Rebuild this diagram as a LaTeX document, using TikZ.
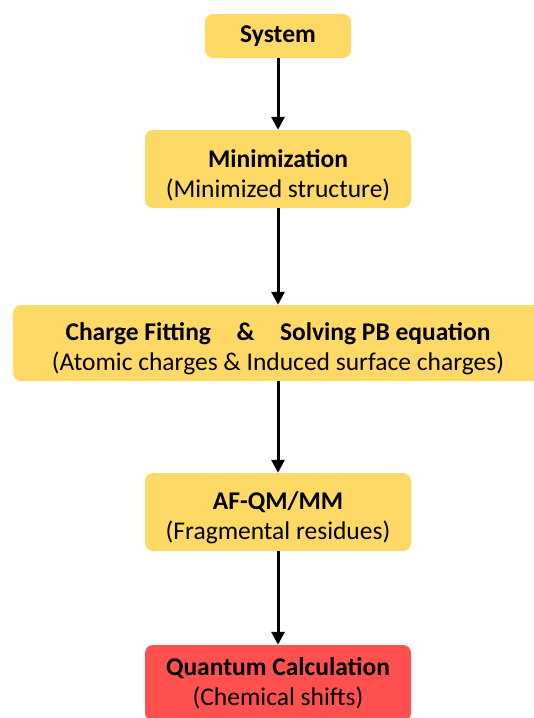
\documentclass[tikz,border=0pt]{standalone}
\usepackage{fontspec}
\setmainfont{Carlito}
\usetikzlibrary{arrows.meta,positioning}
\definecolor{Gold}{HTML}{FFD966}
\definecolor{Coral}{HTML}{FF5050}

\begin{document}
\begin{tikzpicture}[x=1pt,y=-1pt,
  stage/.style={fill=Gold,rounded corners=8pt,align=center,inner sep=0pt,
    font=\fontsize{25.5}{30}\selectfont},
  flow/.style={-{Triangle[length=13pt,width=13pt]},line width=3pt}]
  \useasboundingbox (0,0) rectangle (534,718);
  \clip (0,0) rectangle (534,718);
  \node[stage,minimum width=146pt,minimum height=44pt] (sys) at (278,36)
    {\textbf{System}};
  \node[stage,minimum width=266pt,minimum height=78pt] (mini) at (278,169)
    {\rule{0pt}{30pt}\textbf{Minimization}\\(Minimized structure)};
  \node[stage,minimum width=530pt,minimum height=76pt] (chg) at (278,343)
    {\rule{0pt}{30pt}\textbf{Charge Fitting\hspace{1em}\&\hspace{1em}Solving PB equation}\\
     (Atomic charges \& Induced surface charges)};
  \node[stage,minimum width=266pt,minimum height=78pt] (afqm) at (278,512)
    {\rule{0pt}{30pt}\textbf{AF-QM/MM}\\(Fragmental residues)};
  \node[stage,fill=Coral,minimum width=266pt,minimum height=76pt] (qc) at (278,683)
    {\textbf{Quantum Calculation}\\(Chemical shifts)};
  % arrows between stages
  \draw[flow] (sys) -- (mini);
  \draw[flow] (mini) -- (chg);
  \draw[flow] (chg) -- (afqm);
  \draw[flow] (afqm) -- (qc);
\end{tikzpicture}
\end{document}
